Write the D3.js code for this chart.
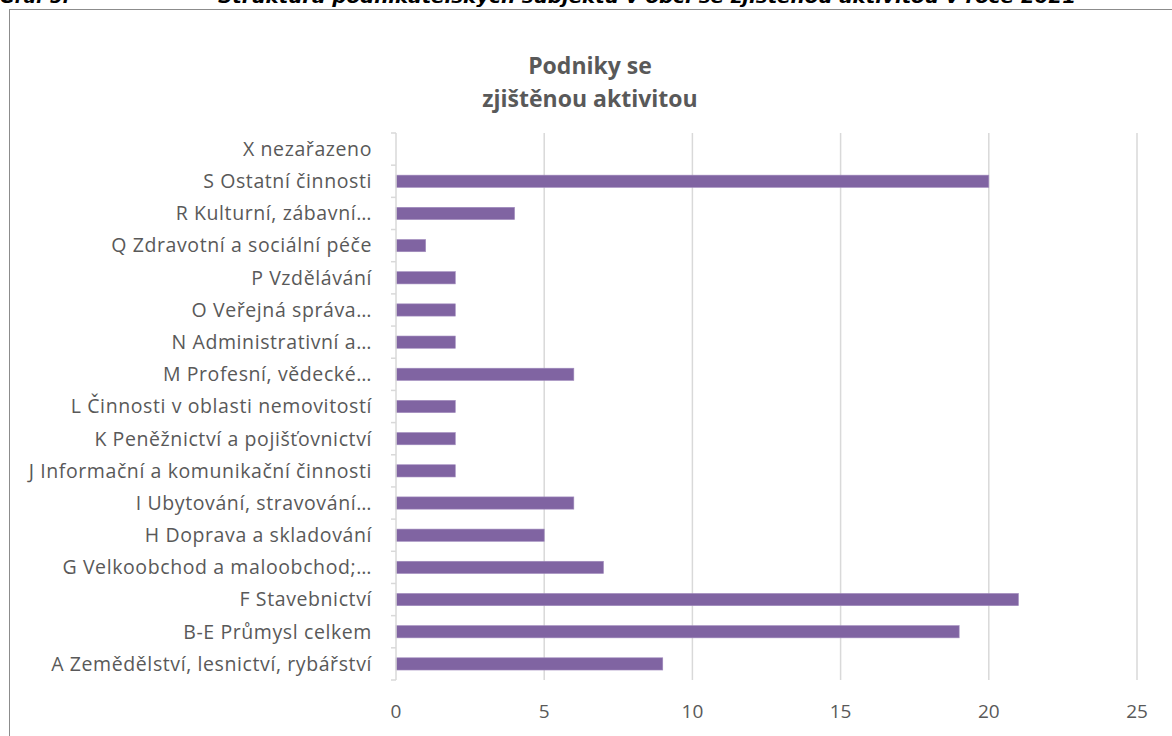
<!DOCTYPE html>
<html>
<head>
<meta charset="utf-8">
<title>Podniky se zjištěnou aktivitou</title>
<script src="https://d3js.org/d3.v7.min.js"></script>
<style>
body { margin: 0; background: #fff; }
svg { display: block; }
.cat text { fill: #595959; font-family: "Open Sans", "Noto Sans", sans-serif; font-size: 19.5px; letter-spacing: 0.6px; }
.val text { fill: #595959; font-family: "Open Sans", "Noto Sans", sans-serif; font-size: 19px; }
.title { fill: #595959; font-family: "Open Sans", "Noto Sans", sans-serif; font-size: 23px; font-weight: bold; }
.head { fill: #000; font-family: "DejaVu Sans", sans-serif; font-size: 18px; font-weight: bold; font-style: italic; }
</style>
</head>
<body>
<script>
// categories from bottom (A) to top (X), as in the chart
var categories = [
  "A Zemědělství, lesnictví, rybářství",
  "B-E Průmysl celkem",
  "F Stavebnictví",
  "G Velkoobchod a maloobchod;…",
  "H Doprava a skladování",
  "I Ubytování, stravování…",
  "J Informační a komunikační činnosti",
  "K Peněžnictví a pojišťovnictví",
  "L Činnosti v oblasti nemovitostí",
  "M Profesní, vědecké…",
  "N Administrativní a…",
  "O Veřejná správa…",
  "P Vzdělávání",
  "Q Zdravotní a sociální péče",
  "R Kulturní, zábavní…",
  "S Ostatní činnosti",
  "X nezařazeno"
];
var values = [9, 19, 21, 7, 5, 6, 2, 2, 2, 6, 2, 2, 2, 1, 4, 20, 0];
var xTicks = [0, 5, 10, 15, 20, 25];
var titleLines = ["Podniky se", "zjištěnou aktivitou"];

var width = 1172, height = 736;
var plotL = 396, plotR = 1137, plotT = 133, plotB = 680;

var svg = d3.select("body").append("svg")
    .attr("width", width)
    .attr("height", height);

// cut-off heading above the chart box
svg.append("text")
    .attr("class", "head")
    .attr("x", 0)
    .attr("y", 3)
    .text("Graf 5:");
svg.append("text")
    .attr("class", "head")
    .attr("x", 218)
    .attr("y", 3)
    .attr("textLength", 858)
    .attr("lengthAdjust", "spacingAndGlyphs")
    .text("Struktura podnikatelských subjektů v obci se zjištěnou aktivitou v roce 2021");

// chart frame
svg.append("rect")
    .attr("x", 9.5).attr("y", 9.5)
    .attr("width", 1200).attr("height", 800)
    .attr("fill", "#fff")
    .attr("stroke", "#8c8c8c");

var x = d3.scaleLinear().domain([0, 25]).range([plotL, plotR]);
var y = d3.scaleBand().domain(categories.slice().reverse()).range([plotT, plotB]).paddingInner(0.62).paddingOuter(0.31);
var yEdge = d3.scaleLinear().domain([0, categories.length]).range([plotB, plotT]);

// title
svg.append("text")
    .attr("class", "title")
    .attr("text-anchor", "middle")
    .selectAll("tspan")
    .data(titleLines)
  .enter().append("tspan")
    .attr("x", 590)
    .attr("y", function(d, i) { return 74 + i * 33; })
    .text(function(d) { return d; });

// gridlines
svg.append("g")
  .selectAll("line")
    .data(xTicks.slice(1))
  .enter().append("line")
    .attr("x1", function(d) { return x(d); })
    .attr("x2", function(d) { return x(d); })
    .attr("y1", plotT).attr("y2", plotB)
    .attr("stroke", "#d9d9d9")
    .attr("stroke-width", 1.5);

// bars
svg.append("g")
  .selectAll("rect")
    .data(values.map(function(v, i) { return {c: categories[i], v: v}; }).filter(function(d) { return d.v > 0; }))
  .enter().append("rect")
    .attr("x", x(0))
    .attr("y", function(d) { return y(d.c); })
    .attr("width", function(d) { return x(d.v) - x(0); })
    .attr("height", y.bandwidth())
    .attr("fill", "#8064a2")
    .attr("stroke", "#a08bbd")
    .attr("stroke-width", 0.6);

// category axis
var cat = svg.append("g").attr("class", "cat");
cat.append("line")
    .attr("x1", plotL).attr("x2", plotL)
    .attr("y1", plotT).attr("y2", plotB)
    .attr("stroke", "#d9d9d9").attr("stroke-width", 1.5);
cat.selectAll("line.tick")
    .data(d3.range(categories.length + 1))
  .enter().append("line")
    .attr("class", "tick")
    .attr("x1", plotL - 5).attr("x2", plotL)
    .attr("y1", function(d) { return yEdge(d); })
    .attr("y2", function(d) { return yEdge(d); })
    .attr("stroke", "#d9d9d9").attr("stroke-width", 1.5);
cat.selectAll("text")
    .data(categories)
  .enter().append("text")
    .attr("x", 372)
    .attr("y", function(d) { return y(d) + y.bandwidth() / 2; })
    .attr("dy", "0.35em")
    .attr("text-anchor", "end")
    .text(function(d) { return d; });

// value axis labels
svg.append("g").attr("class", "val")
  .selectAll("text")
    .data(xTicks)
  .enter().append("text")
    .attr("x", function(d) { return x(d); })
    .attr("y", 718)
    .attr("text-anchor", "middle")
    .text(function(d) { return d; });
</script>
</body>
</html>
